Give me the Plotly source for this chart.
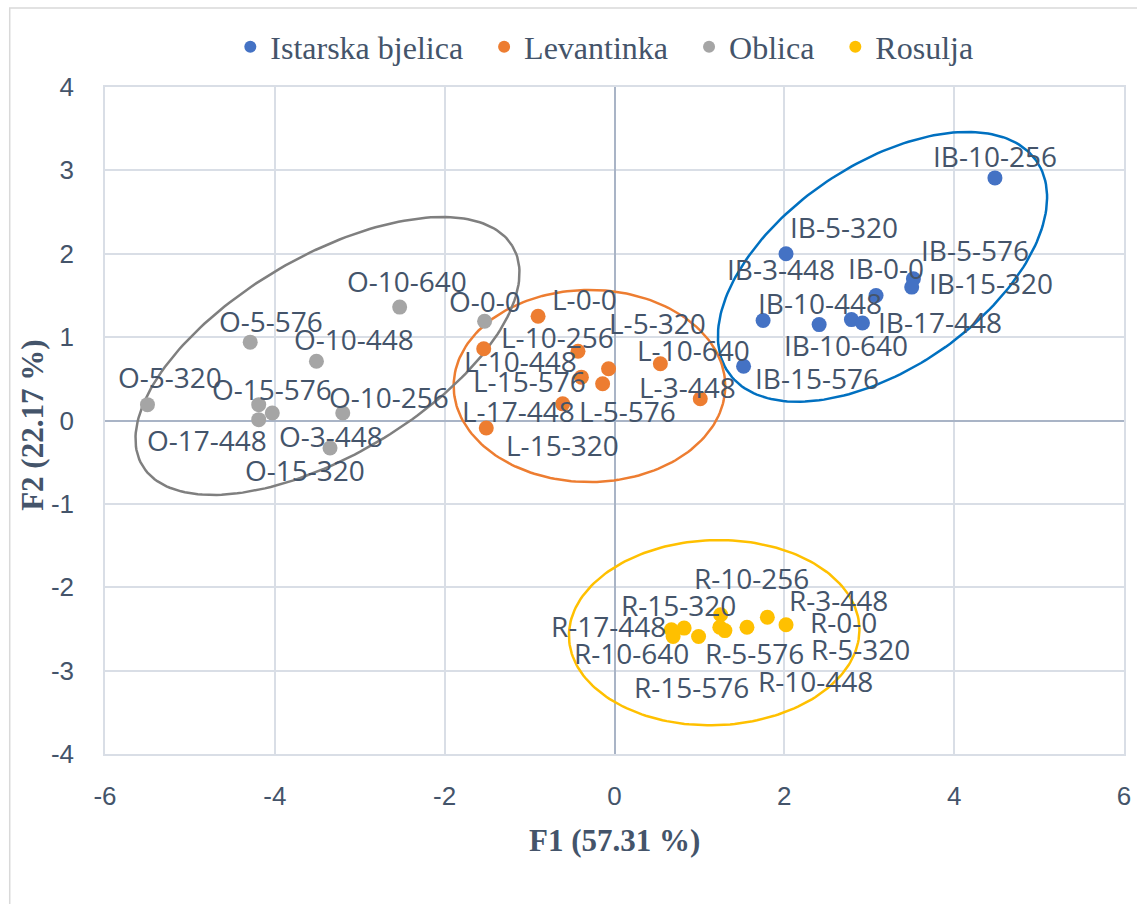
import numpy as np
import plotly.graph_objects as go

# ---------------- data ----------------
ib_labels = ["IB-10-256", "IB-5-320", "IB-5-576", "IB-15-320", "IB-0-0",
             "IB-3-448", "IB-10-448", "IB-10-640", "IB-17-448", "IB-15-576"]
ib_x = [4.48, 2.02, 3.52, 3.50, 3.08, 1.75, 2.41, 2.79, 2.92, 1.52]
ib_y = [2.91, 2.00, 1.70, 1.60, 1.50, 1.20, 1.15, 1.21, 1.17, 0.65]

lv_labels = ["L-0-0", "L-10-448", "L-10-256", "L-5-320", "L-15-576",
             "L-5-576", "L-10-640", "L-3-448", "L-17-448", "L-15-320"]
lv_x = [-0.90, -1.54, -0.43, -0.07, -0.39, -0.14, 0.54, 1.01, -0.61, -1.51]
lv_y = [1.25, 0.86, 0.83, 0.62, 0.52, 0.44, 0.68, 0.26, 0.20, -0.09]

ob_labels = ["O-10-640", "O-0-0", "O-5-576", "O-10-448", "O-5-320",
             "O-15-576", "O-10-256", "O-17-448", "O-3-448", "O-15-320"]
ob_x = [-2.53, -1.53, -4.29, -3.51, -5.50, -4.19, -3.20, -4.19, -3.35, -4.03]
ob_y = [1.36, 1.19, 0.94, 0.71, 0.19, 0.19, 0.09, 0.01, -0.33, 0.09]

ro_labels = ["R-17-448", "R-10-640", "R-15-320", "R-15-576", "R-10-256",
             "R-5-576", "R-5-320", "R-3-448", "R-0-0", "R-10-448"]
ro_x = [0.67, 0.69, 0.82, 0.99, 1.25, 1.30, 1.56, 1.80, 2.02, 1.24]
ro_y = [-2.51, -2.59, -2.49, -2.59, -2.33, -2.52, -2.48, -2.36, -2.45, -2.48]

# confidence ellipses: centre x, centre y, semi-axis a, semi-axis b, angle (deg)
ellipse_ib = (3.156, 1.843, 2.214, 1.214, 35.3)
ellipse_lv = (-0.295, 0.414, 1.599, 1.152, 0.0)
ellipse_ob = (-3.380, 0.774, 2.546, 1.187, 31.3)
ellipse_ro = (1.174, -2.545, 1.711, 1.110, 2.0)

series_names = ["Istarska bjelica", "Levantinka", "Oblica", "Rosulja"]

x_tickvals = [-6, -4, -2, 0, 2, 4, 6]
x_ticktext = ["-6", "-4", "-2", "0", "2", "4", "6"]
y_tickvals = [-4, -3, -2, -1, 0, 1, 2, 3, 4]
y_ticktext = ["-4", "-3", "-2", "-1", "0", "1", "2", "3", "4"]

# ---------------- styles ----------------
colors = ["#4472C4", "#ED7D31", "#A5A5A5", "#FFC000"]
ellipse_colors = ["#0070C0", "#ED7D31", "#7F7F7F", "#FFC000"]

# label offsets in pixels (dx right, dy down)
ib_off = [(0, -22), (58, -27), (62, -29), (79, -4), (10, -27),
          (18, -51), (1, -22), (-5, 25), (78, -1), (73, 12)]
lv_off = [(46, -17), (37, 12), (-20, -14), (49, -46), (-52, 4),
          (25, 27), (33, -14), (-13, -12), (-44, 7), (76, 17)]
ob_off = [(7, -26), (0, -20), (21, -21), (38, -22), (23, -28),
          (13, -16), (46, -16), (-52, 20), (1, -12), (33, 57)]
ro_off = [(-63, -4), (-42, 17), (-6, -23), (-7, 51), (31, -37),
          (30, 22), (114, 22), (71, -17), (57, -3), (96, 54)]

label_color = "#44546A"
label_font = dict(family="Open Sans, Liberation Sans, sans-serif", size=28, color=label_color)

series = [
    (ib_x, ib_y, ib_labels, ib_off, ellipse_ib),
    (lv_x, lv_y, lv_labels, lv_off, ellipse_lv),
    (ob_x, ob_y, ob_labels, ob_off, ellipse_ob),
    (ro_x, ro_y, ro_labels, ro_off, ellipse_ro),
]


def ellipse_xy(cx, cy, a, b, ang, n=200):
    t = np.linspace(0, 2 * np.pi, n)
    th = np.radians(ang)
    xs = cx + a * np.cos(t) * np.cos(th) - b * np.sin(t) * np.sin(th)
    ys = cy + a * np.cos(t) * np.sin(th) + b * np.sin(t) * np.cos(th)
    return xs, ys


fig = go.Figure()

# ellipses first (under points)
for i, (xs, ys, labs, offs, ell) in enumerate(series):
    ex, ey = ellipse_xy(*ell)
    fig.add_trace(go.Scatter(x=ex, y=ey, mode="lines",
                             line=dict(color=ellipse_colors[i], width=2.5),
                             showlegend=False, hoverinfo="skip"))

legend_pad = "\u00a0\u00a0"
for i, (xs, ys, labs, offs, ell) in enumerate(series):
    nm = series_names[i] + (legend_pad if i < len(series) - 1 else "")
    fig.add_trace(go.Scatter(x=xs, y=ys, mode="markers", name=nm,
                             marker=dict(color=colors[i], size=15),
                             text=labs))

annotations = []
for i, (xs, ys, labs, offs, ell) in enumerate(series):
    for x, y, lab, (dx, dy) in zip(xs, ys, labs, offs):
        annotations.append(dict(x=x, y=y, xref="x", yref="y", text=lab,
                                showarrow=False, xshift=dx, yshift=-dy,
                                font=label_font))

title_font = dict(family="Liberation Serif, Times New Roman, serif", size=31, color=label_color)
annotations.append(dict(x=0.5, y=-0.129, xref="paper", yref="paper",
                        text="<b>F1 (57.31 %)</b>", showarrow=False,
                        xanchor="center", yanchor="middle", font=title_font))
annotations.append(dict(x=-0.071, y=0.493, xref="paper", yref="paper",
                        text="<b>F2 (22.17 %)</b>", showarrow=False, textangle=-90,
                        xanchor="center", yanchor="middle", font=title_font))

grid_color = "#D9DEE6"
zero_color = "#A9B4C6"
tick_font = dict(family="Liberation Sans, Arial, sans-serif", size=26, color=label_color)

fig.update_layout(
    width=1137, height=904,
    margin=dict(l=105, r=6, t=87, b=150),
    paper_bgcolor="white", plot_bgcolor="white",
    showlegend=True,
    legend=dict(orientation="h", x=0.49, xanchor="center", y=1.06, yanchor="middle",
                font=dict(family="Liberation Serif, Times New Roman, serif", size=32,
                          color=label_color),
                itemsizing="constant", bgcolor="rgba(0,0,0,0)"),
    annotations=annotations,
    shapes=[dict(type="path", xref="paper", yref="paper",
                 path="M -0.0935,-0.3 L -0.0935,1.1184 L 1.05,1.1184",
                 line=dict(color="#D9D9D9", width=1.5), layer="below")],
)

fig.update_xaxes(range=[-6, 6], tickvals=x_tickvals, ticktext=x_ticktext,
                 showgrid=True, gridcolor=grid_color,
                 gridwidth=1.5, zeroline=True, zerolinecolor=zero_color, zerolinewidth=1.5,
                 showline=True, linecolor=grid_color, linewidth=1.5, mirror=True,
                 ticks="", tickfont=tick_font, ticklabelstandoff=18, fixedrange=True)
fig.update_yaxes(range=[-4, 4], tickvals=y_tickvals, ticktext=y_ticktext,
                 showgrid=True, gridcolor=grid_color,
                 gridwidth=1.5, zeroline=True, zerolinecolor=zero_color, zerolinewidth=1.5,
                 showline=True, linecolor=grid_color, linewidth=1.5, mirror=True,
                 ticks="", tickfont=tick_font, ticklabelstandoff=24, fixedrange=True)

# remove the default page margin so the figure sits at the window's top-left corner
fig.write_html("out.html", config={"displayModeBar": False},
               post_script="document.body.style.margin='0';document.body.style.overflow='hidden';")
